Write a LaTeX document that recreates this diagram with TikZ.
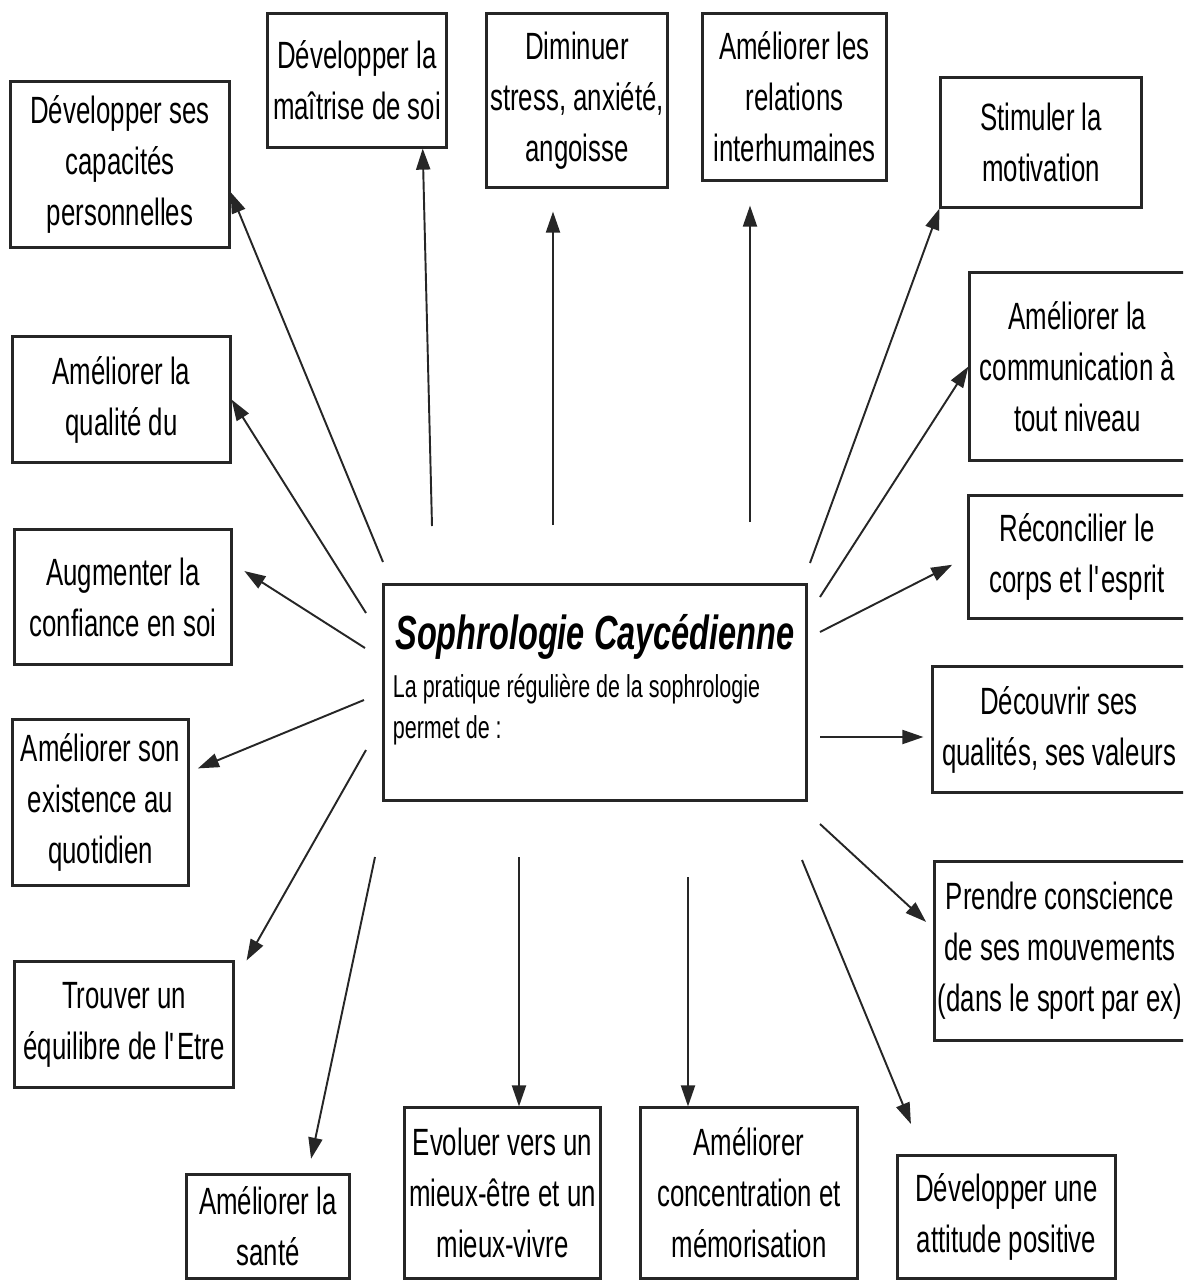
\documentclass[tikz,border=0pt]{standalone}
\usepackage{fontspec}
\setmainfont{Liberation Sans}[FakeStretch=0.68]
\usetikzlibrary{arrows.meta}

\begin{document}
\begin{tikzpicture}[
  x=0.01cm, y=-0.01cm,
  font=\fontsize{10.8}{14.5}\selectfont,
  >={Triangle[length=6pt, width=4pt]},
  box/.style={draw=black!85, line width=0.85pt, align=center, inner sep=0pt},
  core/.style={box, minimum width=4.22cm, minimum height=2.15cm, text width=4.04cm, align=flush left, font=\fontsize{9}{11.6}\selectfont},
  ar/.style={->, line width=0.55pt, black!85},
]
\useasboundingbox (0,0) rectangle (1192,1281);
\begin{scope}
\clip (0,0) rectangle (1183,1281);
% centre
\node[core] (core) at (595,692.5) {\makebox[\linewidth][c]{\fontsize{13.6}{16}\selectfont\bfseries\itshape Sophrologie Caycédienne}\\[2pt]
  La pratique régulière de la sophrologie\\permet de :\rule[-0.32cm]{0pt}{0pt}};
% boxes, clockwise from top left
\node[box, minimum width=2.18cm, minimum height=1.65cm] (capa) at (120,164.5) {Développer ses\\capacités\\personnelles};
\node[box, minimum width=1.78cm, minimum height=1.33cm] (maitrise) at (357,80.5) {Développer la\\maîtrise de soi};
\node[box, minimum width=1.80cm, minimum height=1.73cm] (dimin) at (577,100.5) {Diminuer\\stress, anxiété,\\angoisse};
\node[box, minimum width=1.83cm, minimum height=1.66cm] (relat) at (794.5,97) {Améliorer les\\relations\\interhumaines};
\node[box, minimum width=2.00cm, minimum height=1.29cm] (stim) at (1041,142.5) {Stimuler la\\motivation};
\node[box, minimum width=2.15cm, minimum height=1.87cm] (comm) at (1077.5,366.5) {Améliorer la\\communication à\\tout niveau};
\node[box, minimum width=2.16cm, minimum height=1.22cm] (recon) at (1077,557) {Réconcilier le\\corps et l\textquotesingle esprit};
\node[box, minimum width=2.52cm, minimum height=1.25cm] (decouv) at (1059,729.5) {Découvrir ses\\qualités, ses valeurs};
\node[box, minimum width=2.50cm, minimum height=1.78cm] (prendre) at (1060,951) {Prendre conscience\\de ses mouvements\\(dans le sport par ex)};
\node[box, minimum width=2.17cm, minimum height=1.22cm] (att) at (1006.5,1217) {Développer une\\attitude positive};
\node[box, minimum width=2.16cm, minimum height=1.70cm] (conc) at (749,1193) {Améliorer\\concentration et\\mémorisation};
\node[box, minimum width=1.95cm, minimum height=1.70cm] (evol) at (502.5,1193) {Evoluer vers un\\mieux-être et un\\mieux-vivre};
\node[box, minimum width=1.62cm, minimum height=1.03cm] (sante) at (268,1226.5) {Améliorer la\\santé};
\node[box, minimum width=2.18cm, minimum height=1.25cm] (equil) at (124,1024.5) {Trouver un\\équilibre de l\textquotesingle Etre};
\node[box, minimum width=1.75cm, minimum height=1.65cm] (exist) at (100.5,802.5) {Améliorer son\\existence au\\quotidien};
\node[box, minimum width=2.16cm, minimum height=1.34cm] (conf) at (123,597) {Augmenter la\\confiance en soi};
\node[box, minimum width=2.17cm, minimum height=1.25cm] (qual) at (121.5,399.5) {Améliorer la\\qualité du};
% free ends of the arrows, round the centre box
\coordinate (s1) at (383,562);
\coordinate (s2) at (432,526);
\coordinate (s3) at (553,525);
\coordinate (s4) at (750,522);
\coordinate (s5) at (810,563);
\coordinate (s6) at (820,597);
\coordinate (s7) at (820,632);
\coordinate (s8) at (820,737);
\coordinate (s9) at (820,824);
\coordinate (s10) at (802,860);
\coordinate (s11) at (688,877);
\coordinate (s12) at (519,857);
\coordinate (s13) at (375,857);
\coordinate (s14) at (366,750);
\coordinate (s15) at (364,700);
\coordinate (s16) at (365,648);
\coordinate (s17) at (366,613);
\draw[ar] (s1) -- (capa.-14);
\draw[ar] (s2) -- (maitrise.-46);
\draw[ar, shorten >=0.23cm] (s3) -- (s3 |- dimin.south);
\draw[ar, shorten >=0.24cm] (s4) -- (s4 |- relat.south);
\draw[ar] (s5) -- (stim.south west);
\draw[ar] (s6) -- (comm.west);
\draw[ar, shorten >=0.17cm] (s7) -- (recon.west);
\draw[ar, shorten >=0.08cm] (s8) -- (s8 -| decouv.west);
\draw[ar, shorten >=0.1cm] (s9) -- (prendre.170);
\draw[ar, shorten >=0.33cm] (s10) -- (att.143);
\draw[ar] (s11) -- (s11 |- conc.north);
\draw[ar] (s12) -- (s12 |- evol.north);
\draw[ar, shorten >=0.15cm] (s13) -- (sante.53);
\draw[ar] (s14) -- ([xshift=0.12cm]equil.north east);
\draw[ar, shorten >=0.09cm] (s15) -- (exist.19);
\draw[ar, shorten >=0.14cm] (s16) -- (conf.17);
\draw[ar] (s17) -- (qual.east);
\end{scope}
\end{tikzpicture}
\end{document}
